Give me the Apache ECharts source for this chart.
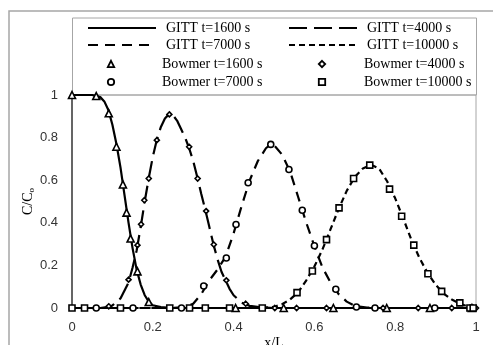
<!DOCTYPE html>
<html>
<head>
<meta charset="utf-8">
<script src="https://cdn.jsdelivr.net/npm/echarts@6/dist/echarts.min.js"></script>
<style>
html,body{margin:0;padding:0;background:#fff;}
#graphic{width:493px;height:345px;}
</style>
</head>
<body>
<div id="graphic"></div>
<script>
// axis ticks
var xTicks = [0, 0.2, 0.4, 0.6, 0.8, 1];
var yTicks = [0, 0.2, 0.4, 0.6, 0.8, 1];

// GITT curves (x/L, C/Co)
var gitt1600 = [[0,1],[0.05,1],[0.07,0.99],[0.08,0.97],[0.09,0.93],[0.10,0.86],[0.11,0.77],[0.12,0.66],[0.13,0.53],[0.14,0.40],[0.15,0.28],[0.16,0.18],[0.17,0.11],[0.18,0.06],[0.19,0.03],[0.20,0.013],[0.22,0.004],[0.25,0],[1,0]];
var gitt4000 = [[0,0],[0.07,0],[0.09,0.005],[0.10,0.012],[0.12,0.045],[0.14,0.12],[0.15,0.19],[0.16,0.27],[0.17,0.38],[0.18,0.50],[0.19,0.61],[0.20,0.71],[0.21,0.79],[0.22,0.85],[0.23,0.89],[0.24,0.91],[0.25,0.905],[0.26,0.88],[0.27,0.84],[0.28,0.80],[0.29,0.75],[0.30,0.69],[0.31,0.615],[0.32,0.535],[0.33,0.46],[0.34,0.38],[0.35,0.30],[0.36,0.23],[0.37,0.17],[0.38,0.13],[0.39,0.09],[0.40,0.06],[0.42,0.025],[0.44,0.01],[0.47,0.002],[0.5,0],[1,0]];
var gitt7000 = [[0,0],[0.25,0],[0.28,0.005],[0.30,0.02],[0.32,0.065],[0.34,0.13],[0.36,0.18],[0.38,0.24],[0.40,0.35],[0.42,0.48],[0.44,0.60],[0.46,0.69],[0.48,0.75],[0.49,0.765],[0.50,0.765],[0.52,0.72],[0.54,0.64],[0.56,0.52],[0.58,0.40],[0.60,0.29],[0.62,0.19],[0.64,0.12],[0.66,0.065],[0.68,0.03],[0.70,0.01],[0.73,0.002],[0.76,0],[1,0]];
var gitt10000 = [[0,0],[0.46,0],[0.50,0.005],[0.52,0.018],[0.54,0.04],[0.56,0.075],[0.58,0.13],[0.60,0.195],[0.62,0.275],[0.64,0.37],[0.66,0.465],[0.68,0.55],[0.70,0.615],[0.72,0.655],[0.74,0.672],[0.76,0.655],[0.78,0.595],[0.80,0.515],[0.82,0.42],[0.84,0.32],[0.86,0.235],[0.88,0.165],[0.90,0.11],[0.92,0.068],[0.94,0.04],[0.96,0.02],[0.98,0.007],[1,0]];

// Bowmer points
var bow1600 = [[0,1],[0.06,0.995],[0.091,0.914],[0.11,0.757],[0.126,0.58],[0.135,0.448],[0.145,0.326],[0.162,0.172],[0.19,0.028],[0.405,0],[0.524,0],[0.647,0],[0.779,0],[0.886,0],[0.99,0]];
var bow4000 = [[0.091,0.008],[0.14,0.133],[0.162,0.295],[0.171,0.393],[0.179,0.506],[0.19,0.608],[0.21,0.788],[0.241,0.909],[0.29,0.757],[0.311,0.608],[0.332,0.455],[0.351,0.298],[0.382,0.13],[0.43,0.02],[0.502,0],[0.556,0],[0.63,0],[0.77,0],[0.857,0],[0.94,0],[1,0]];
var bow7000 = [[0.06,0],[0.151,0],[0.271,0],[0.326,0.103],[0.382,0.235],[0.406,0.392],[0.436,0.588],[0.492,0.768],[0.537,0.65],[0.57,0.459],[0.6,0.292],[0.653,0.088],[0.704,0.005],[0.75,0],[0.898,0]];
var bow10000 = [[0,0],[0.031,0],[0.12,0],[0.242,0],[0.291,0],[0.33,0],[0.39,0],[0.471,0],[0.557,0.072],[0.595,0.174],[0.63,0.321],[0.661,0.47],[0.697,0.608],[0.737,0.671],[0.786,0.558],[0.816,0.431],[0.846,0.295],[0.881,0.161],[0.915,0.078],[0.96,0.024],[0.985,0],[0.993,0]];

var serifFont = 'Liberation Serif';
var tickFont = 'Liberation Sans';

function gittSeries(name, data, dash){
    return {
        name: name, type: 'line', data: data, symbol: 'none', z: 2,
        lineStyle: {color: '#000', width: 2.2, type: dash},
        itemStyle: {color: '#000'},
        animation: false
    };
}

function bowSeries(name, data, symbol, size){
    return {
        name: name, type: 'line', data: data, symbol: symbol, symbolSize: size,
        showSymbol: true, clip: false, z: 3,
        lineStyle: {width: 0, opacity: 0},
        itemStyle: {color: '#fff', borderColor: '#000', borderWidth: 1.6},
        animation: false
    };
}

//线条图例 - 不显示符号
function lineLegend(name, left, top){
    return {
        data: [name], left: left, top: top, padding: 0,
        itemWidth: 68, itemHeight: 14, selectedMode: false,
        itemStyle: {opacity: 0},
        textStyle: {fontFamily: serifFont, fontSize: 14, color: '#000', padding: [0, 0, 0, 5]}
    };
}

function markLegend(name, left, top, width){
    return {
        data: [name], left: left, top: top, padding: 0,
        itemWidth: width, itemHeight: 8, selectedMode: false,
        itemStyle: {borderWidth: 1.8},
        textStyle: {fontFamily: serifFont, fontSize: 14, color: '#000'}
    };
}

var option = {
    backgroundColor: '#fff',
    animation: false,
    grid: {left: 72, right: 17, top: 95, bottom: 37, outerBoundsMode: 'none',
        show: true, borderColor: '#a6a6a6', borderWidth: 1},
    graphic: [
        {type: 'rect', shape: {x: 9, y: 11, width: 520, height: 400}, style: {fill: 'none', stroke: '#a6a6a6', lineWidth: 1.5}, z: -1},
        {type: 'rect', shape: {x: 72.5, y: 18, width: 404, height: 77}, style: {fill: 'none', stroke: '#a6a6a6', lineWidth: 1}, z: -1}
    ],
    legend: [
        lineLegend('GITT t=1600 s', 87, 21),
        lineLegend('GITT t=4000 s', 288, 21),
        lineLegend('GITT t=7000 s', 87, 38),
        lineLegend('GITT t=10000 s', 288, 38),
        markLegend('Bowmer t=1600 s', 65, 57, 92),
        markLegend('Bowmer t=4000 s', 285, 57, 74),
        markLegend('Bowmer t=7000 s', 65, 75, 92),
        markLegend('Bowmer t=10000 s', 285, 75, 74)
    ],
    xAxis: {
        type: 'value', min: xTicks[0], max: xTicks[xTicks.length-1], interval: xTicks[1]-xTicks[0],
        name: 'x/L', nameLocation: 'middle', nameGap: 28, nameMoveOverlap: false,
        nameTextStyle: {fontFamily: serifFont, fontSize: 14, color: '#000'},
        axisLine: {lineStyle: {color: '#404040', width: 1.5}},
        axisTick: {show: false},
        splitLine: {show: false},
        axisLabel: {fontFamily: tickFont, fontSize: 13, color: '#333', margin: 13}
    },
    yAxis: {
        type: 'value', min: yTicks[0], max: yTicks[yTicks.length-1], interval: yTicks[1]-yTicks[0],
        name: 'C/C{s|o}', nameLocation: 'middle', nameGap: 36, nameMoveOverlap: false,
        nameTextStyle: {fontFamily: serifFont, fontSize: 14, color: '#000',
            rich: {s: {fontFamily: serifFont, fontSize: 9, color: '#000', padding: [7, 0, 0, 0]}}},
        axisLine: {show: true, lineStyle: {color: '#404040', width: 1.5}},
        axisTick: {show: false},
        splitLine: {show: false},
        axisLabel: {fontFamily: tickFont, fontSize: 13, color: '#333', margin: 14}
    },
    series: [
        gittSeries('GITT t=1600 s', gitt1600, 'solid'),
        gittSeries('GITT t=4000 s', gitt4000, [18, 7]),
        gittSeries('GITT t=7000 s', gitt7000, [10, 7]),
        gittSeries('GITT t=10000 s', gitt10000, [6, 4]),
        bowSeries('Bowmer t=1600 s', bow1600, 'triangle', 7),
        bowSeries('Bowmer t=4000 s', bow4000, 'diamond', 5),
        bowSeries('Bowmer t=7000 s', bow7000, 'circle', 6),
        bowSeries('Bowmer t=10000 s', bow10000, 'rect', 6)
    ]
};

var graphic = echarts.init(document.getElementById('graphic'));
graphic.setOption(option);
</script>
</body>
</html>
